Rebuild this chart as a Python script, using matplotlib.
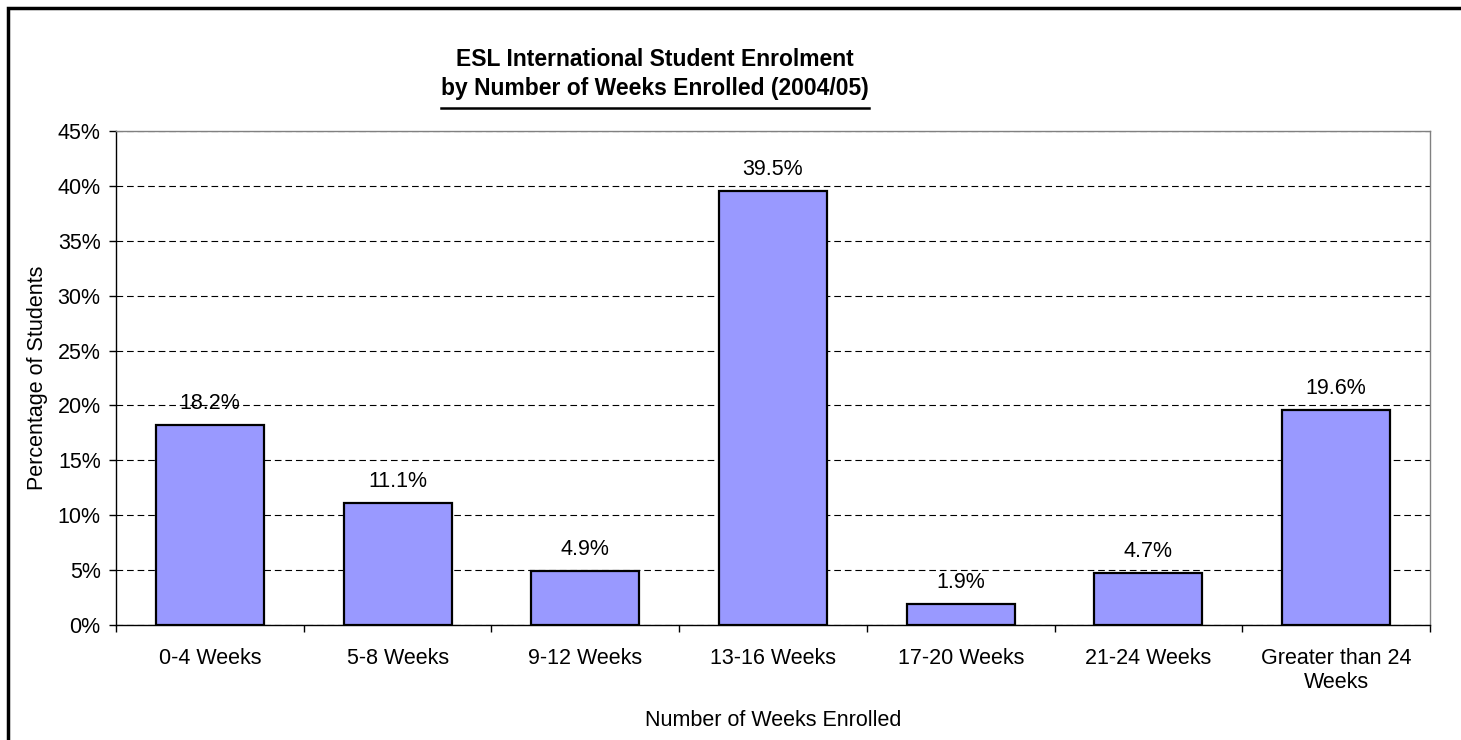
import matplotlib
matplotlib.use("Agg")
import matplotlib.pyplot as plt
from matplotlib.ticker import MultipleLocator, FuncFormatter
import numpy as np

categories = ["0-4 Weeks", "5-8 Weeks", "9-12 Weeks", "13-16 Weeks",
              "17-20 Weeks", "21-24 Weeks", "Greater than 24\nWeeks"]
values = [18.2, 11.1, 4.9, 39.5, 1.9, 4.7, 19.6]

plt.rcParams['font.family'] = ['Liberation Sans', 'DejaVu Sans']

W, H = 1461, 740
fig = plt.figure(figsize=(W / 100, H / 100), dpi=100)
ax = fig.add_axes([116 / W, 1 - 625 / H, (1430 - 116) / W, (625 - 131) / H])

x = np.arange(len(categories))
ax.bar(x, values, width=0.575, color="#9999FF", edgecolor="black", linewidth=1.6, zorder=3)
for xi, v in zip(x, values):
    ax.annotate(f"{v:.1f}%", (xi, v), xytext=(0, 8), textcoords="offset points",
                ha="center", va="bottom", fontsize=15.5, zorder=4)

ax.set_xlim(-0.5, len(categories) - 0.5)
ax.set_ylim(0, 45)
ax.yaxis.set_major_locator(MultipleLocator(5))
ax.yaxis.set_major_formatter(FuncFormatter(lambda v, p: f"{v:.0f}%"))
ax.yaxis.grid(True, linestyle=(0, (6, 3.5)), color="black", linewidth=0.8, zorder=0)
ax.set_axisbelow(True)

ax.set_xticks(np.arange(len(categories) + 1) - 0.5, minor=False)
ax.set_xticklabels([])
ax.set_xticks(x, minor=True)
ax.set_xticklabels(categories, minor=True, fontsize=15.5)
ax.tick_params(axis="x", which="minor", length=0, pad=16.5)
ax.tick_params(axis="x", which="major", length=5, direction="out", width=1)
ax.tick_params(axis="y", length=5, direction="out", width=1, labelsize=15.5, pad=6)

for s in ["left", "bottom"]:
    ax.spines[s].set_color("black")
    ax.spines[s].set_linewidth(1)
for s in ["top", "right"]:
    ax.spines[s].set_color("#808080")
    ax.spines[s].set_linewidth(1)

ax.set_ylabel("Percentage of Students", fontsize=15.5, labelpad=7)
ax.set_xlabel("Number of Weeks Enrolled", fontsize=15.5, labelpad=12)

fig.text(655 / W, 1 - 60 / H, "ESL International Student Enrolment", ha="center", va="center",
         fontsize=16.5, fontweight="bold")
t2 = fig.text(655 / W, 1 - 89 / H, "by Number of Weeks Enrolled (2004/05)", ha="center", va="center",
              fontsize=16.5, fontweight="bold")

# outer frame: left and top edges only
fig.add_artist(plt.Line2D([8 / W, 8 / W, 1], [0, 1 - 8 / H, 1 - 8 / H],
                          transform=fig.transFigure, color="black", linewidth=2.5,
                          solid_joinstyle="miter"))

# underline second title line
fig.canvas.draw()
bb = t2.get_window_extent()
fig.add_artist(plt.Line2D([bb.x0 / W, bb.x1 / W], [1 - 108 / H, 1 - 108 / H],
                          transform=fig.transFigure, color="black", linewidth=1.8))

fig.savefig("out.png", dpi=100)
